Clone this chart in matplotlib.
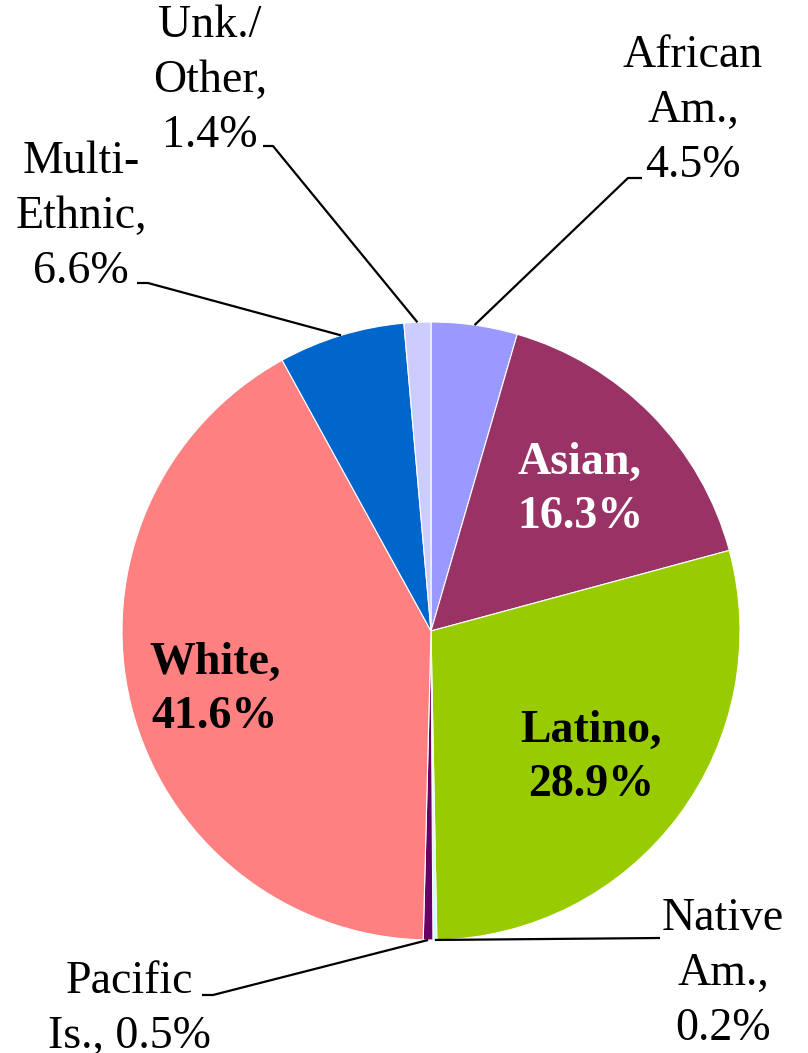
import numpy as np
import matplotlib
matplotlib.use("Agg")
import matplotlib.pyplot as plt

# slice data, clockwise from the top
groups = ["African Am.", "Asian", "Latino", "Native Am.", "Pacific Is.",
          "White", "Multi-Ethnic", "Unk./Other"]
shares = [4.5, 16.3, 28.9, 0.2, 0.5, 41.6, 6.6, 1.4]
colors = ["#9999FF", "#993366", "#99CC00", "#CCFFFF", "#660066",
          "#FF8080", "#0066CC", "#CCCCFF"]

W, H = 808, 1053
CX, CY, R = 431, H - 631, 309   # pie centre / radius in pixel units

plt.rcParams["font.family"] = ["Liberation Serif", "DejaVu Serif"]
FS = 33
LS = 1.38

fig = plt.figure(figsize=(W / 100, H / 100), dpi=100)
ax = fig.add_axes([0, 0, 1, 1])

wedges, _ = ax.pie(shares, colors=colors, startangle=90, counterclock=False,
                   center=(CX, CY), radius=R,
                   wedgeprops=dict(edgecolor="white", linewidth=0.8))

# pie() sets its own limits, so fix them afterwards
ax.set_xlim(0, W)
ax.set_ylim(0, H)
ax.set_aspect("equal")
ax.axis("off")


def edge_point(i):
    """point on the rim at the middle of slice i"""
    w = wedges[i]
    ang = np.deg2rad((w.theta1 + w.theta2) / 2)
    return CX + R * np.cos(ang), CY + R * np.sin(ang)


def label(x, y_base, s, **kw):
    # y_base: baseline of the last line, in image pixels from the top
    ax.text(x, H - y_base, s, ha="center", va="baseline", multialignment="center",
            fontsize=FS, linespacing=LS, **kw)


def leader(i, pts):
    ex, ey = edge_point(i)
    xs = [p[0] for p in pts] + [ex]
    ys = [H - p[1] for p in pts] + [ey]
    ax.plot(xs, ys, color="black", linewidth=1.6, solid_capstyle="butt")


# outside labels
label(693, 177, "African\nAm.,\n%.1f%%" % shares[0])
leader(0, [(642, 178), (628, 178)])

label(210, 147, "Unk./\nOther,\n%.1f%%" % shares[7])
leader(7, [(263, 146), (273, 146)])

label(81, 283, "Multi-\nEthnic,\n%.1f%%" % shares[6])
leader(6, [(137, 283), (148, 283)])

label(723, 1040, "Native\nAm.,\n%.1f%%" % shares[3])
leader(3, [(660, 938)])

label(129, 1048, "Pacific\nIs., %.1f%%" % shares[4])
leader(4, [(202, 995), (213, 995)])

# inside labels
label(580, 528, "Asian,\n%.1f%%" % shares[1], color="white", fontweight="bold")
label(591, 796, "Latino,\n%.1f%%" % shares[2], color="black", fontweight="bold")
label(215, 728, "White,\n%.1f%%" % shares[5], color="black", fontweight="bold")

fig.savefig("out.png", dpi=100)
